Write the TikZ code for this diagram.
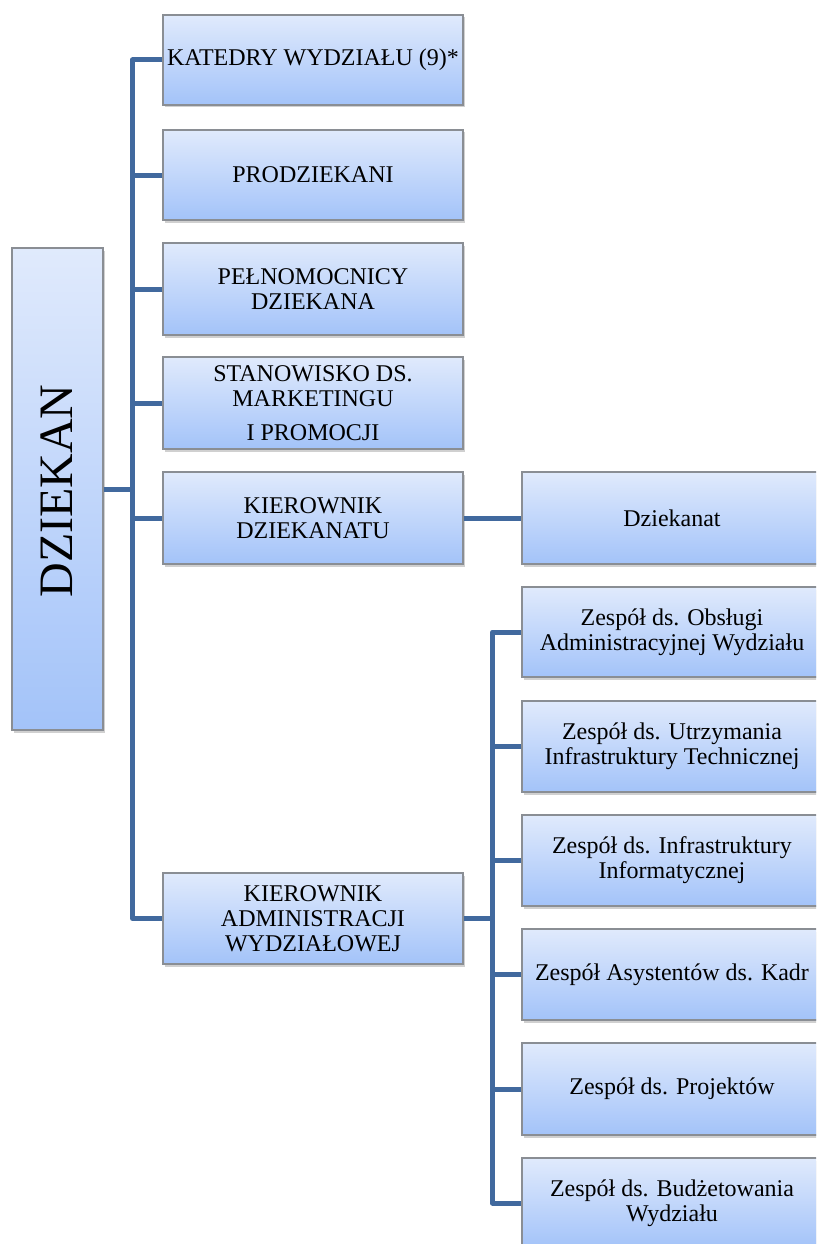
\documentclass[tikz,border=0pt]{standalone}
\usepackage{fontspec}
\setmainfont{Liberation Serif}
\usetikzlibrary{shadows}
\definecolor{boxtop}{HTML}{E0EAFC}
\definecolor{boxbot}{HTML}{A3C3F9}
\definecolor{boxline}{HTML}{8A8E94}
\definecolor{conn}{HTML}{41699E}
\tikzset{
  unit/.style={draw=boxline, line width=1.1pt, top color=boxtop, bottom color=boxbot,
    minimum width=300pt, minimum height=91pt, inner sep=0pt, align=center,
    font=\fontsize{24}{25}\selectfont,
    drop shadow={shadow xshift=2pt, shadow yshift=-2.5pt, opacity=0.3, fill=black!60}},
  link/.style={draw=conn, line width=5pt, line join=round}
}
\begin{document}
\begin{tikzpicture}[x=1pt,y=-1pt]
\clip (0,0) rectangle (816,1244);
\fill[white] (0,0) rectangle (816,1244);
% DZIEKAN
\node[unit, minimum width=91pt, minimum height=482pt] (dz) at (57.5,489) {};
\node[rotate=90, font=\fontsize{48}{50}\selectfont] (dzt) at (57,491) {DZIEKAN};
% left column
\node[unit, minimum height=90pt] (kat) at (313,60) {KATEDRY WYDZIAŁU (9)*};
\node[unit, minimum height=90pt] (pro) at (313,175) {PRODZIEKANI};
\node[unit, minimum height=92pt] (pel) at (313,289) {PEŁNOMOCNICY\\DZIEKANA};
\node[unit, minimum height=92pt] (sta) at (313,403) {STANOWISKO DS.\\MARKETINGU\\[9pt]I PROMOCJI};
\node[unit, minimum height=92pt] (kdz) at (313,518) {KIEROWNIK\\DZIEKANATU};
\node[unit, minimum height=91pt] (kad) at (313,918.5) {KIEROWNIK\\ADMINISTRACJI\\WYDZIAŁOWEJ};
% right column
\node[unit, minimum height=92pt] (dzn) at (672,518) {Dziekanat};
\node[unit, minimum height=90pt] (z1) at (672,632) {Zespół ds. Obsługi\\Administracyjnej Wydziału};
\node[unit, minimum height=91pt] (z2) at (672,746.5) {Zespół ds. Utrzymania\\Infrastruktury Technicznej};
\node[unit, minimum height=91pt] (z3) at (672,860.5) {Zespół ds. Infrastruktury\\Informatycznej};
\node[unit, minimum height=91pt] (z4) at (672,974.5) {Zespół Asystentów ds. Kadr};
\node[unit, minimum height=92pt] (z5) at (672,1089) {Zespół ds. Projektów};
\node[unit, minimum height=90pt] (z6) at (672,1203) {Zespół ds. Budżetowania\\Wydziału};
% connectors: left trunk
\draw[link] (kat.west) -- ++(-30,0) |- (kad.west);
\draw[link] (pro.west) -- ++(-30,0);
\draw[link] (pel.west) -- ++(-30,0);
\draw[link] (sta.west) -- ++(-30,0);
\draw[link] (kdz.west) -- ++(-30,0);
\draw[link] (dz.east) -- ++(30,0);
% dziekanat
\draw[link] (kdz.east) -- (dzn.west);
% right trunk
\draw[link] (z1.west) -- ++(-29,0) |- (z6.west);
\draw[link] (z2.west) -- ++(-29,0);
\draw[link] (z3.west) -- ++(-29,0);
\draw[link] (z4.west) -- ++(-29,0);
\draw[link] (z5.west) -- ++(-29,0);
\draw[link] (kad.east) -- ++(30,0);
\end{tikzpicture}
\end{document}
